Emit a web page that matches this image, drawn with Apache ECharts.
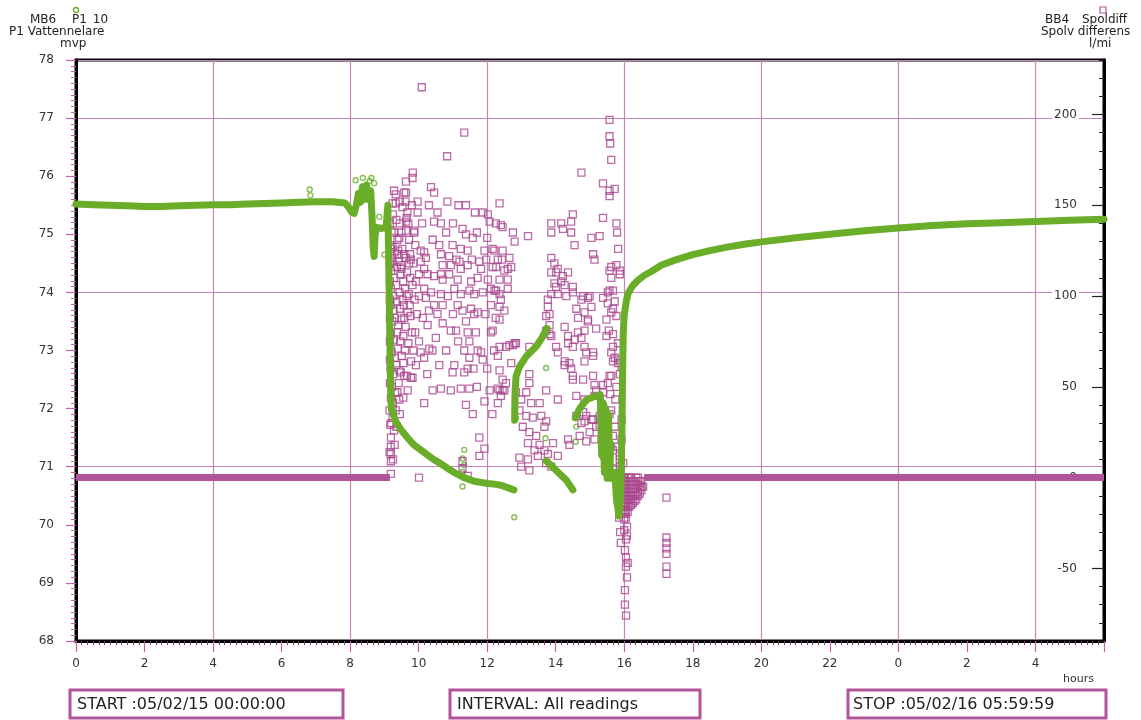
<!DOCTYPE html>
<html>
<head>
<meta charset="utf-8">
<script src="https://cdn.jsdelivr.net/npm/echarts@6/dist/echarts.min.js"></script>
<style>
  html, body { margin: 0; padding: 0; background: #fff; }
  #chart { width: 1141px; height: 720px; }
</style>
</head>
<body>
<div id="chart"></div>
<script>
// ---- Tick labels ----
const hourLabels = ['0', '2', '4', '6', '8', '10', '12', '14', '16', '18', '20', '22', '0', '2', '4', ''];
const levelTicks = [68, 69, 70, 71, 72, 73, 74, 75, 76, 77, 78];
const flowTickValues = [-50, 0, 50, 100, 150, 200];

// ---- MB6 P1_10, P1 Vattennelare (mvp), [hours, level] ----
const p1Steady = [
  [0, 75.52], [0.5, 75.51], [1, 75.5], [1.5, 75.49], [2, 75.48], [2.5, 75.48], [3, 75.49], [3.5, 75.5],
  [4, 75.51], [4.5, 75.51], [5, 75.52], [5.5, 75.53], [6, 75.54], [6.5, 75.55], [7, 75.56], [7.5, 75.56],
  [7.85, 75.54], [7.95, 75.47], [8.05, 75.38], [8.12, 75.36], [8.18, 75.5], [8.24, 75.7], [8.3, 75.55],
  [8.36, 75.82], [8.42, 75.6], [8.48, 75.85], [8.54, 75.6], [8.6, 75.75], [8.64, 75.3], [8.67, 74.8],
  [8.7, 74.62], [8.73, 75.0], [8.78, 75.12], [8.9, 75.1], [9.05, 75.12], [9.1, 75.5], [9.12, 74.8],
  [9.14, 74.0], [9.16, 73.2], [9.18, 72.4], [9.2, 72.0], [9.33, 71.78], [9.48, 71.64], [9.67, 71.5],
  [9.87, 71.37], [10.06, 71.29], [10.26, 71.2], [10.45, 71.12], [10.65, 71.05], [10.85, 70.97],
  [11.04, 70.9], [11.23, 70.84], [11.43, 70.79], [11.62, 70.75], [11.82, 70.73], [12.02, 70.71],
  [12.21, 70.7], [12.4, 70.68], [12.6, 70.64], [12.78, 70.6]
];
const p1Rise1 = [
  [12.8, 71.8], [12.81, 72.2], [12.84, 72.55], [12.94, 72.72], [13.14, 72.9], [13.43, 73.07], [13.6, 73.22], [13.74, 73.38]
];
const p1Fall1 = [
  [13.72, 71.1], [13.87, 71.02], [14.01, 70.94], [14.16, 70.85], [14.31, 70.77], [14.5, 70.6]
];
const p1Rise2 = [
  [14.57, 71.84], [14.7, 72.0], [14.89, 72.15], [15.09, 72.2], [15.3, 72.24], [15.34, 71.2], [15.38, 72.1],
  [15.42, 70.9], [15.46, 72.0], [15.5, 70.8], [15.54, 71.9], [15.58, 70.8], [15.6, 71.4]
];
const p1Recovery = [
  [15.72, 70.9], [15.78, 70.4], [15.85, 70.15], [15.9, 70.6], [15.93, 71.6], [15.95, 72.6], [15.97, 73.3],
  [16.0, 73.62], [16.06, 73.85], [16.11, 73.98], [16.25, 74.12], [16.4, 74.21], [16.6, 74.3], [16.79, 74.36],
  [17.09, 74.47], [17.5, 74.56], [18, 74.65], [18.5, 74.72], [19, 74.78], [19.5, 74.83], [20, 74.87],
  [21, 74.94], [22, 75.0], [23, 75.06], [24, 75.11], [25, 75.15], [26, 75.18], [27, 75.2], [28, 75.22],
  [29, 75.24], [30, 75.26]
];
const p1Isolated = [
  [6.82, 75.77], [6.84, 75.67], [8.16, 75.93], [8.37, 75.97], [8.57, 75.92], [8.45, 75.75], [8.62, 75.97],
  [8.7, 75.88], [8.85, 75.3], [9.0, 74.65], [11.33, 71.29], [11.28, 71.14], [11.33, 71.03], [11.28, 70.91],
  [11.33, 70.8], [11.28, 70.66], [12.79, 70.13], [13.72, 72.7], [13.7, 71.49], [12.84, 71.84], [14.6, 71.69],
  [14.58, 71.43]
];

// ---- BB4 Spoldiff, Spolv differens (l/mi), [hours, flow] ----
const spoldiffIdleBefore = [[0, 0], [9.16, 0]];
const spoldiffIdleAfter = [[16.58, 0], [30, 0]];
const spoldiffReadings = [
  [10.09, 215], [11.33, 190], [10.83, 177], [9.83, 168], [9.63, 163], [9.82, 165], [9.28, 158], [9.63, 157],
  [10.36, 160], [10.45, 157], [9.33, 151], [9.97, 152], [10.84, 152], [11.16, 150], [11.38, 150], [11.64, 146],
  [11.87, 146], [12.02, 145], [9.97, 146], [9.65, 143], [10.45, 141], [10.65, 140], [9.63, 136], [9.87, 136],
  [9.21, 136], [9.43, 132], [10.41, 131], [10.6, 128], [11.28, 137], [11.38, 134], [11.58, 132], [10.99, 128],
  [11.23, 126], [11.43, 125], [11.92, 125], [12.16, 126], [12.36, 151], [9.19, 126], [9.38, 123], [9.58, 123],
  [9.75, 123], [10.16, 124], [10.21, 121], [10.65, 123], [10.89, 122], [9.24, 119], [9.48, 117], [9.72, 118],
  [10.06, 119], [10.16, 115], [10.7, 117], [10.94, 117], [11.19, 119], [11.23, 115], [11.43, 117], [11.77, 119],
  [11.97, 120], [11.82, 115], [12.16, 116], [10.01, 112], [10.26, 112], [10.45, 111], [10.65, 112], [10.89, 112],
  [10.7, 109], [11.14, 109], [11.53, 108], [11.72, 110], [12.02, 109], [10.16, 104], [10.36, 102], [10.65, 101],
  [11.04, 104], [11.23, 101], [11.48, 103], [11.62, 101], [11.87, 102], [12.11, 104], [12.36, 101], [10.01, 100],
  [10.21, 99], [10.45, 95], [10.7, 95], [11.14, 95], [11.28, 92], [11.53, 93], [11.62, 90], [11.72, 91],
  [12.11, 95], [12.36, 94], [10.26, 84], [10.5, 77], [10.7, 85], [10.94, 81], [11.09, 81], [11.38, 86],
  [11.43, 80], [11.48, 75], [11.33, 70], [11.48, 66], [11.67, 80], [11.82, 69], [11.87, 65], [12.11, 80],
  [10.06, 69], [10.16, 66], [9.77, 55], [11.04, 62], [10.99, 58], [11.43, 60], [11.33, 58], [10.41, 48],
  [10.65, 49], [10.94, 48], [11.23, 49], [11.48, 49], [10.16, 41], [11.38, 40], [11.58, 35], [11.92, 42],
  [12.36, 48], [11.77, 22], [11.77, 12], [11.92, 16], [11.28, 9], [11.28, 5], [11.43, 1], [10.01, 0], [9.19, 2],
  [9.19, 22], [9.19, 17], [9.19, 13], [9.24, 38], [9.24, 33], [9.38, 47], [9.43, 43], [9.82, 55], [9.48, 58],
  [9.58, 56], [10.31, 71], [10.01, 75],
  [9.33, 156], [9.24, 151], [9.58, 157], [9.53, 149], [9.67, 146], [9.63, 141], [9.87, 135], [9.38, 131],
  [9.72, 131], [10.06, 125], [9.24, 127], [9.77, 120],
  [9.17, 128], [9.22, 121], [9.3, 124], [9.41, 119], [9.52, 126], [9.63, 121], [9.2, 114], [9.28, 110],
  [9.36, 116], [9.47, 112], [9.55, 108], [9.66, 113], [9.75, 110], [9.19, 104], [9.26, 100], [9.34, 106],
  [9.44, 102], [9.53, 98], [9.6, 104], [9.71, 101], [9.82, 106], [9.18, 95], [9.27, 92], [9.35, 97],
  [9.45, 93], [9.57, 95], [9.68, 91], [9.23, 86], [9.31, 88], [9.4, 84], [9.49, 87], [9.62, 83], [9.76, 89],
  [9.19, 79], [9.28, 76], [9.37, 80], [9.46, 75], [9.55, 78], [9.7, 74], [9.21, 69], [9.3, 66], [9.39, 71],
  [9.51, 67], [9.6, 70], [9.18, 60], [9.26, 57], [9.35, 62], [9.44, 59], [9.55, 63], [9.66, 56], [9.22, 50],
  [9.31, 47], [9.42, 52], [9.25, 41], [9.33, 37], [9.2, 30], [9.28, 26],
  [9.19, 44], [9.15, 37], [9.17, 29], [9.15, 14], [9.19, 9],
  [9.16, 140], [9.25, 145], [9.45, 140], [9.5, 135], [9.7, 140], [9.8, 150], [9.9, 128], [9.85, 118],
  [9.92, 108], [9.88, 98], [9.95, 90], [9.9, 80], [9.85, 70], [9.78, 64], [9.92, 62], [9.68, 48], [9.55, 44],
  [9.45, 35], [9.35, 28], [9.3, 18], [9.25, 10], [9.4, 125], [9.5, 115], [9.58, 88], [9.65, 100], [9.74, 95],
  [9.8, 80], [9.28, 135], [9.35, 142], [9.45, 152], [9.62, 152], [9.16, 118], [9.16, 108], [9.16, 98],
  [9.16, 88], [9.16, 75], [9.16, 65], [9.16, 52],
  [10.1, 140], [10.3, 150], [10.55, 146], [10.8, 135], [11.0, 140], [11.1, 120], [10.85, 100], [11.0, 90],
  [10.55, 90], [10.3, 92], [10.12, 88], [10.4, 70], [10.6, 62], [10.8, 70], [11.15, 75], [11.6, 60], [11.7, 50],
  [12.0, 60], [12.2, 70], [11.95, 90], [12.25, 88], [11.55, 120], [11.7, 135], [12.0, 132], [12.25, 140],
  [10.25, 57], [12.15, 35],
  [12.07, 141], [12.45, 138], [12.21, 125], [12.31, 120], [12.5, 114], [12.6, 109], [12.21, 103], [12.4, 98],
  [12.5, 92], [12.36, 87], [12.16, 81], [12.75, 73], [12.55, 72], [12.84, 74], [11.72, 70], [12.07, 48],
  [12.31, 49], [12.5, 48], [12.4, 45],
  [14.75, 168], [15.38, 162], [15.57, 158], [15.72, 159], [15.57, 155], [15.77, 140], [15.79, 135], [15.82, 126],
  [15.38, 143], [12.4, 139], [12.75, 135], [13.19, 133], [12.8, 130], [13.87, 140], [14.16, 140], [14.5, 145],
  [14.45, 141], [13.87, 135], [14.21, 137], [14.45, 135], [14.55, 128], [15.04, 132], [15.28, 133], [12.45, 125],
  [12.65, 121], [12.43, 120], [12.26, 116], [12.6, 115], [12.7, 116], [13.87, 121], [13.96, 118], [14.06, 115],
  [14.36, 113], [14.21, 111], [14.26, 106], [13.96, 107], [14.06, 101], [15.09, 123], [15.13, 120], [15.57, 114],
  [15.87, 114], [15.62, 110], [12.36, 109], [12.6, 104], [12.26, 103], [13.77, 98], [13.87, 101], [14.31, 100],
  [14.5, 105], [14.75, 98], [14.94, 99], [15.04, 94], [15.57, 103], [15.67, 103], [15.52, 96], [15.72, 97],
  [15.62, 91], [15.77, 89], [14.6, 93], [14.65, 88], [14.94, 86], [15.18, 82], [13.77, 94], [13.82, 90],
  [13.82, 84], [13.82, 79], [14.26, 83], [14.36, 74], [14.55, 76], [14.75, 77], [14.84, 81], [14.06, 69],
  [12.65, 73], [12.8, 74], [12.36, 72], [13.23, 72], [14.89, 69], [15.09, 69], [15.48, 78], [15.67, 79],
  [15.67, 72], [15.72, 66], [15.82, 65], [15.67, 64], [12.7, 63], [13.23, 57], [13.23, 52], [12.45, 54],
  [12.55, 52], [14.26, 62], [14.45, 60], [13.72, 48], [14.06, 43], [14.5, 54], [14.8, 54], [15.09, 56],
  [14.6, 45], [14.84, 43], [15.18, 48], [15.38, 47], [15.52, 52], [15.77, 50], [15.87, 57], [15.92, 61],
  [12.84, 47], [12.99, 43], [13.14, 47], [13.28, 41], [13.53, 41], [12.94, 37], [13.14, 34], [13.33, 33],
  [13.58, 34], [13.72, 31], [13.67, 28], [13.04, 28], [13.23, 25], [13.43, 23], [13.19, 19], [13.53, 18],
  [13.77, 13], [13.48, 12], [13.72, 8], [12.94, 11], [12.99, 6], [13.19, 10], [13.23, 4], [14.06, 12],
  [13.87, 6], [14.4, 18], [14.6, 34], [14.75, 30], [14.89, 34], [15.09, 32], [15.18, 28], [15.28, 34],
  [14.7, 23], [14.89, 20], [15.13, 21], [15.48, 23], [15.62, 37], [15.72, 28], [15.67, 15], [15.87, 10],
  [15.97, 8], [12.31, 67], [12.36, 59], [12.45, 48], [12.31, 41],
  [15.57, 197], [15.57, 188], [15.59, 184], [15.62, 175], [15.77, 117], [15.62, 116], [15.87, 112],
  [13.87, 113], [14.01, 113], [14.16, 108], [14.01, 105], [14.5, 102], [14.8, 100], [14.99, 100], [15.38, 99],
  [15.52, 102], [15.67, 93], [15.48, 87], [15.55, 81], [15.82, 74], [15.62, 69], [15.82, 63], [15.62, 56],
  [14.84, 91], [14.94, 87], [14.65, 80], [14.36, 78], [14.5, 72], [14.84, 72], [13.72, 89], [13.72, 81],
  [13.87, 78], [14.01, 72], [14.26, 64], [14.4, 63], [14.84, 64], [15.09, 67], [14.5, 56], [15.13, 51],
  [15.38, 51], [15.57, 56], [14.8, 36], [15.13, 45], [15.38, 39], [15.57, 35], [14.84, 31], [15.04, 32],
  [15.28, 29], [15.48, 25], [15.67, 23], [15.82, 17], [14.36, 21], [14.99, 25], [13.92, 19], [13.67, 15],
  [13.38, 15], [15.87, 12], [15.87, 6],
  [15.42, 12], [15.53, 18], [15.68, 5], [15.92, 21], [15.48, 9], [15.74, 43], [15.92, 32], [15.59, 46],
  [15.95, 0], [15.95, -4], [15.95, -8], [15.95, -12], [15.95, -16], [15.95, -20], [16.05, -2], [16.05, -6],
  [16.05, -10], [16.05, -14], [16.05, -18], [16.05, -22], [16.15, 0], [16.15, -4], [16.15, -8], [16.15, -12],
  [16.15, -16], [16.25, -2], [16.25, -6], [16.25, -10], [16.25, -14], [16.35, 0], [16.35, -4], [16.35, -8],
  [16.35, -12], [16.45, -2], [16.45, -5], [16.45, -9], [16.55, -5],
  [15.98, -2], [15.98, -6], [15.98, -10], [15.98, -14], [15.98, -18], [16.02, 0], [16.02, -4], [16.02, -8],
  [16.02, -12], [16.02, -16], [16.02, -20], [16.1, 0], [16.1, -4], [16.1, -8], [16.1, -12], [16.1, -16],
  [16.1, -19], [16.2, 0], [16.2, -4], [16.2, -8], [16.2, -12], [16.2, -15], [16.3, -2], [16.3, -6],
  [16.3, -10], [16.3, -13], [16.4, 0], [16.4, -4], [16.4, -8], [16.4, -10], [16.5, -2], [16.5, -5], [16.5, -7],
  [16.0, -23], [16.08, -27], [16.0, -29], [16.08, -32], [16.05, -34], [16.02, -40], [16.05, -44], [16.1, -47],
  [16.05, -49], [16.08, -55], [16.02, -62], [16.02, -70], [16.05, -76], [15.85, -22], [15.88, -30], [15.9, -36],
  [17.23, -11], [17.23, -33], [17.23, -36], [17.23, -39], [17.23, -42], [17.23, -49], [17.23, -53]
];

// ---- Styling ----
const FONT = '"DejaVu Sans", Verdana, sans-serif';
const GREEN = '#69ad28';
const PURPLE = '#b0559b';
const SQUARE = '#a9468f';
const PINK_TICK = '#c262aa';
const GRID_PINK = '#c786ba';

const chart = echarts.init(document.getElementById('chart'), null, { renderer: 'canvas' });

function levelLine(data) {
  return {
    type: 'line', data, xAxisIndex: 0, yAxisIndex: 0,
    showSymbol: false, symbol: 'none', silent: true,
    lineStyle: { color: GREEN, width: 7, cap: 'round', join: 'round' }
  };
}
function idleLine(data) {
  return {
    type: 'line', data, xAxisIndex: 0, yAxisIndex: 1,
    showSymbol: false, symbol: 'none', silent: true,
    lineStyle: { color: PURPLE, width: 7 }
  };
}

const option = {
  animation: false,
  backgroundColor: '#fff',
  grid: {
    left: 76, right: 37, top: 60, bottom: 79,
    show: true, borderColor: '#000', borderWidth: 3,
    containLabel: false, outerBoundsMode: 'none'
  },
  xAxis: [
    {
      type: 'value', min: 0, max: 30, interval: 2, position: 'bottom',
      axisLine: { onZero: false, lineStyle: { color: '#000', width: 3 } },
      axisTick: { length: 11, lineStyle: { color: PINK_TICK, width: 1.2 } },
      minorTick: { show: true, splitNumber: 12, length: 4, lineStyle: { color: '#7b3d70', width: 1 } },
      axisLabel: {
        margin: 17, color: '#333', fontSize: 12, fontFamily: FONT,
        formatter: v => hourLabels[Math.round(v / 2)] || ''
      },
      splitLine: { show: false }
    },
    {
      type: 'value', min: 0, max: 30, interval: 4, position: 'bottom',
      axisLine: { show: false }, axisTick: { show: false }, axisLabel: { show: false },
      splitLine: { show: true, lineStyle: { color: GRID_PINK, width: 1.2 } }
    }
  ],
  yAxis: [
    {
      type: 'value', min: levelTicks[0], max: levelTicks[levelTicks.length - 1], interval: 1, position: 'left',
      axisLine: { onZero: false, lineStyle: { color: '#000', width: 3 } },
      axisTick: { length: 10, lineStyle: { color: PINK_TICK, width: 1.2 } },
      minorTick: { show: true, splitNumber: 10, length: 5, lineStyle: { color: PINK_TICK, width: 1 } },
      axisLabel: { margin: 22, color: '#333', fontSize: 12, fontFamily: FONT },
      splitLine: { show: false }
    },
    {
      type: 'value', min: -90, max: 230, interval: 10, position: 'right',
      axisLine: { onZero: false, lineStyle: { color: '#000', width: 3 } },
      axisTick: { inside: true, length: 5, lineStyle: { color: '#222', width: 1 } },
      axisLabel: { show: false },
      splitLine: { show: false }
    },
    {
      type: 'value', min: -90, max: 230, position: 'right',
      axisLine: { show: false, onZero: false },
      axisTick: { inside: true, length: 12, customValues: flowTickValues, lineStyle: { color: '#222', width: 1.2 } },
      axisLabel: {
        inside: true, margin: 25, customValues: flowTickValues,
        color: '#333', fontSize: 12, fontFamily: FONT,
        backgroundColor: '#fff', padding: [0, 2]
      },
      splitLine: { show: false }
    },
    {
      type: 'value', min: 68, max: 78, interval: 3, position: 'left',
      axisLine: { show: false, onZero: false }, axisTick: { show: false }, axisLabel: { show: false },
      splitLine: { show: true, lineStyle: { color: GRID_PINK, width: 1.2 } }
    }
  ],
  series: [
    levelLine(p1Steady),
    levelLine(p1Rise1),
    levelLine(p1Fall1),
    levelLine(p1Rise2),
    levelLine(p1Recovery),
    {
      type: 'scatter', data: p1Isolated, xAxisIndex: 0, yAxisIndex: 0,
      symbol: 'circle', symbolSize: 5, silent: true,
      itemStyle: { color: 'rgba(0,0,0,0)', borderColor: GREEN, borderWidth: 1.4 }
    },
    idleLine(spoldiffIdleBefore),
    idleLine(spoldiffIdleAfter),
    {
      type: 'scatter', data: spoldiffReadings, xAxisIndex: 0, yAxisIndex: 1,
      symbol: 'rect', symbolSize: 7, silent: true, large: false,
      itemStyle: { color: 'rgba(0,0,0,0)', borderColor: SQUARE, borderWidth: 1.3 }
    }
  ],
  graphic: [
    // series headers
    { type: 'circle', shape: { cx: 76, cy: 10, r: 2.5 }, style: { fill: 'none', stroke: GREEN, lineWidth: 1.3 } },
    { type: 'text', x: 30, y: 20, style: { text: 'MB6', font: '12px ' + FONT, fill: '#222', verticalAlign: 'middle' } },
    { type: 'text', x: 72, y: 20, style: { text: 'P1_10', font: '12px ' + FONT, fill: '#222', verticalAlign: 'middle' } },
    { type: 'text', x: 8, y: 32, style: { text: 'P1 Vattennelare', font: '12px ' + FONT, fill: '#222', verticalAlign: 'middle', backgroundColor: '#fff', padding: [3, 1, 0, 1] } },
    { type: 'text', x: 60, y: 44, style: { text: 'mvp', font: '12px ' + FONT, fill: '#222', verticalAlign: 'middle' } },

    { type: 'rect', shape: { x: 1100, y: 7, width: 6, height: 6 }, style: { fill: 'none', stroke: PURPLE, lineWidth: 1.2 } },
    { type: 'text', x: 1045, y: 20, style: { text: 'BB4', font: '12px ' + FONT, fill: '#222', verticalAlign: 'middle' } },
    { type: 'text', x: 1082, y: 20, style: { text: 'Spoldiff', font: '12px ' + FONT, fill: '#222', verticalAlign: 'middle' } },
    { type: 'text', x: 1040, y: 32, style: { text: 'Spolv differens', font: '12px ' + FONT, fill: '#222', verticalAlign: 'middle', backgroundColor: '#fff', padding: [3, 1, 0, 1] } },
    { type: 'text', x: 1089, y: 44, style: { text: 'l/mi', font: '12px ' + FONT, fill: '#222', verticalAlign: 'middle' } },

    { type: 'text', x: 1063, y: 679, style: { text: 'hours', font: '11px ' + FONT, fill: '#333', verticalAlign: 'middle' } },

    // footer boxes
    { type: 'rect', shape: { x: 70, y: 690, width: 273, height: 28 }, style: { fill: '#fff', stroke: PURPLE, lineWidth: 3 } },
    { type: 'text', x: 77, y: 705, style: { text: 'START :05/02/15 00:00:00', font: '16px ' + FONT, fill: '#222', verticalAlign: 'middle' } },
    { type: 'rect', shape: { x: 450, y: 690, width: 250, height: 28 }, style: { fill: '#fff', stroke: PURPLE, lineWidth: 3 } },
    { type: 'text', x: 457, y: 705, style: { text: 'INTERVAL: All readings', font: '16px ' + FONT, fill: '#222', verticalAlign: 'middle' } },
    { type: 'rect', shape: { x: 848, y: 690, width: 258, height: 28 }, style: { fill: '#fff', stroke: PURPLE, lineWidth: 3 } },
    { type: 'text', x: 853, y: 705, style: { text: 'STOP :05/02/16 05:59:59', font: '16px ' + FONT, fill: '#222', verticalAlign: 'middle' } }
  ]
};

chart.setOption(option);
</script>
</body>
</html>
